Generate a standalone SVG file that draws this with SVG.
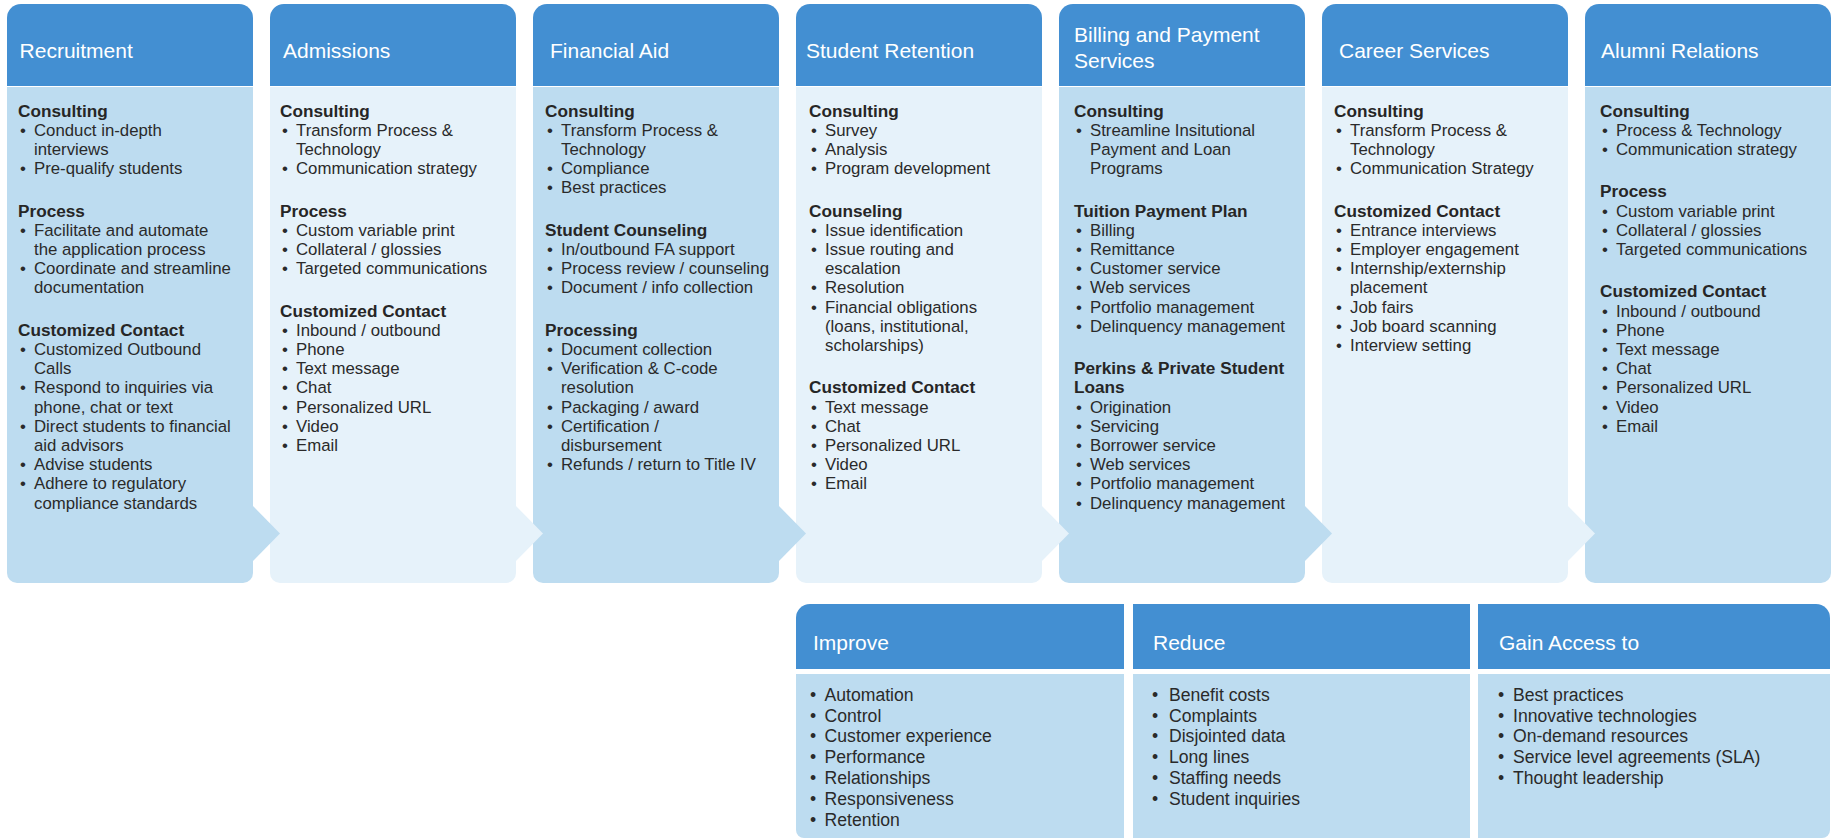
<svg xmlns="http://www.w3.org/2000/svg" width="1839" height="839" viewBox="0 0 1839 839">
<style>
.hdr{fill:#438fd2}
.dk{fill:#bddcf0}
.lt{fill:#e6f2fa}
.ht{font-family:"Liberation Sans",Arial,sans-serif;font-size:21px;fill:#ffffff}
.sh{font-family:"Liberation Sans",Arial,sans-serif;font-size:17.2px;font-weight:bold;fill:#262626}
.it{font-family:"Liberation Sans",Arial,sans-serif;font-size:16.8px;fill:#2a2a2a}
.bt{font-family:"Liberation Sans",Arial,sans-serif;font-size:17.6px;fill:#2a2a2a}
</style>
<rect width="1839" height="839" fill="#ffffff"/>

<!-- Column 7 -->
<g id="alumni-relations">
<path class="hdr" d="M1585,86 V18 A14,14 0 0 1 1599,4 H1817 A14,14 0 0 1 1831,18 V86 Z"/>
<path class="dk" d="M1585,87 H1831 V573 A10,10 0 0 1 1821,583 H1595 A10,10 0 0 1 1585,573 Z"/>
<text class="ht" x="1601" y="58.3">Alumni Relations</text>
<text class="sh" x="1600" y="116.5">Consulting</text>
<text class="it" y="135.7"><tspan x="1602">•</tspan><tspan x="1616">Process &amp; Technology</tspan></text>
<text class="it" y="154.9"><tspan x="1602">•</tspan><tspan x="1616">Communication strategy</tspan></text>
<text class="sh" x="1600" y="197.3">Process</text>
<text class="it" y="216.5"><tspan x="1602">•</tspan><tspan x="1616">Custom variable print</tspan></text>
<text class="it" y="235.7"><tspan x="1602">•</tspan><tspan x="1616">Collateral / glossies</tspan></text>
<text class="it" y="254.9"><tspan x="1602">•</tspan><tspan x="1616">Targeted communications</tspan></text>
<text class="sh" x="1600" y="297.3">Customized Contact</text>
<text class="it" y="316.5"><tspan x="1602">•</tspan><tspan x="1616">Inbound / outbound</tspan></text>
<text class="it" y="335.7"><tspan x="1602">•</tspan><tspan x="1616">Phone</tspan></text>
<text class="it" y="354.9"><tspan x="1602">•</tspan><tspan x="1616">Text message</tspan></text>
<text class="it" y="374.1"><tspan x="1602">•</tspan><tspan x="1616">Chat</tspan></text>
<text class="it" y="393.3"><tspan x="1602">•</tspan><tspan x="1616">Personalized URL</tspan></text>
<text class="it" y="412.5"><tspan x="1602">•</tspan><tspan x="1616">Video</tspan></text>
<text class="it" y="431.7"><tspan x="1602">•</tspan><tspan x="1616">Email</tspan></text>
</g>

<!-- Column 6 -->
<g id="career-services">
<path class="hdr" d="M1322,86 V18 A14,14 0 0 1 1336,4 H1554 A14,14 0 0 1 1568,18 V86 Z"/>
<path class="lt" d="M1322,87 H1568 V573 A10,10 0 0 1 1558,583 H1332 A10,10 0 0 1 1322,573 Z"/>
<text class="ht" x="1339" y="58.3">Career Services</text>
<text class="sh" x="1334" y="116.5">Consulting</text>
<text class="it" y="135.7"><tspan x="1336">•</tspan><tspan x="1350">Transform Process &amp;</tspan></text>
<text class="it" x="1350" y="154.9">Technology</text>
<text class="it" y="174.1"><tspan x="1336">•</tspan><tspan x="1350">Communication Strategy</tspan></text>
<text class="sh" x="1334" y="216.5">Customized Contact</text>
<text class="it" y="235.7"><tspan x="1336">•</tspan><tspan x="1350">Entrance interviews</tspan></text>
<text class="it" y="254.9"><tspan x="1336">•</tspan><tspan x="1350">Employer engagement</tspan></text>
<text class="it" y="274.1"><tspan x="1336">•</tspan><tspan x="1350">Internship/externship</tspan></text>
<text class="it" x="1350" y="293.3">placement</text>
<text class="it" y="312.5"><tspan x="1336">•</tspan><tspan x="1350">Job fairs</tspan></text>
<text class="it" y="331.7"><tspan x="1336">•</tspan><tspan x="1350">Job board scanning</tspan></text>
<text class="it" y="350.9"><tspan x="1336">•</tspan><tspan x="1350">Interview setting</tspan></text>
</g>

<!-- Column 5 -->
<g id="billing-payment">
<path class="hdr" d="M1059,86 V18 A14,14 0 0 1 1073,4 H1291 A14,14 0 0 1 1305,18 V86 Z"/>
<path class="dk" d="M1059,87 H1305 V573 A10,10 0 0 1 1295,583 H1069 A10,10 0 0 1 1059,573 Z"/>
<text class="ht" x="1074" y="41.7">Billing and Payment</text>
<text class="ht" x="1074" y="68.3">Services</text>
<text class="sh" x="1074" y="116.5">Consulting</text>
<text class="it" y="135.7"><tspan x="1076">•</tspan><tspan x="1090">Streamline Insitutional</tspan></text>
<text class="it" x="1090" y="154.9">Payment and Loan</text>
<text class="it" x="1090" y="174.1">Programs</text>
<text class="sh" x="1074" y="216.5">Tuition Payment Plan</text>
<text class="it" y="235.7"><tspan x="1076">•</tspan><tspan x="1090">Billing</tspan></text>
<text class="it" y="254.9"><tspan x="1076">•</tspan><tspan x="1090">Remittance</tspan></text>
<text class="it" y="274.1"><tspan x="1076">•</tspan><tspan x="1090">Customer service</tspan></text>
<text class="it" y="293.3"><tspan x="1076">•</tspan><tspan x="1090">Web services</tspan></text>
<text class="it" y="312.5"><tspan x="1076">•</tspan><tspan x="1090">Portfolio management</tspan></text>
<text class="it" y="331.7"><tspan x="1076">•</tspan><tspan x="1090">Delinquency management</tspan></text>
<text class="sh" x="1074" y="374.1">Perkins &amp; Private Student</text>
<text class="sh" x="1074" y="393.3">Loans</text>
<text class="it" y="412.5"><tspan x="1076">•</tspan><tspan x="1090">Origination</tspan></text>
<text class="it" y="431.7"><tspan x="1076">•</tspan><tspan x="1090">Servicing</tspan></text>
<text class="it" y="450.9"><tspan x="1076">•</tspan><tspan x="1090">Borrower service</tspan></text>
<text class="it" y="470.1"><tspan x="1076">•</tspan><tspan x="1090">Web services</tspan></text>
<text class="it" y="489.3"><tspan x="1076">•</tspan><tspan x="1090">Portfolio management</tspan></text>
<text class="it" y="508.5"><tspan x="1076">•</tspan><tspan x="1090">Delinquency management</tspan></text>
</g>

<!-- Column 4 -->
<g id="student-retention">
<path class="hdr" d="M796,86 V18 A14,14 0 0 1 810,4 H1028 A14,14 0 0 1 1042,18 V86 Z"/>
<path class="lt" d="M796,87 H1042 V573 A10,10 0 0 1 1032,583 H806 A10,10 0 0 1 796,573 Z"/>
<text class="ht" x="806" y="58.3">Student Retention</text>
<text class="sh" x="809" y="116.5">Consulting</text>
<text class="it" y="135.7"><tspan x="811">•</tspan><tspan x="825">Survey</tspan></text>
<text class="it" y="154.9"><tspan x="811">•</tspan><tspan x="825">Analysis</tspan></text>
<text class="it" y="174.1"><tspan x="811">•</tspan><tspan x="825">Program development</tspan></text>
<text class="sh" x="809" y="216.5">Counseling</text>
<text class="it" y="235.7"><tspan x="811">•</tspan><tspan x="825">Issue identification</tspan></text>
<text class="it" y="254.9"><tspan x="811">•</tspan><tspan x="825">Issue routing and</tspan></text>
<text class="it" x="825" y="274.1">escalation</text>
<text class="it" y="293.3"><tspan x="811">•</tspan><tspan x="825">Resolution</tspan></text>
<text class="it" y="312.5"><tspan x="811">•</tspan><tspan x="825">Financial obligations</tspan></text>
<text class="it" x="825" y="331.7">(loans, institutional,</text>
<text class="it" x="825" y="350.9">scholarships)</text>
<text class="sh" x="809" y="393.3">Customized Contact</text>
<text class="it" y="412.5"><tspan x="811">•</tspan><tspan x="825">Text message</tspan></text>
<text class="it" y="431.7"><tspan x="811">•</tspan><tspan x="825">Chat</tspan></text>
<text class="it" y="450.9"><tspan x="811">•</tspan><tspan x="825">Personalized URL</tspan></text>
<text class="it" y="470.1"><tspan x="811">•</tspan><tspan x="825">Video</tspan></text>
<text class="it" y="489.3"><tspan x="811">•</tspan><tspan x="825">Email</tspan></text>
</g>

<!-- Column 3 -->
<g id="financial-aid">
<path class="hdr" d="M533,86 V18 A14,14 0 0 1 547,4 H765 A14,14 0 0 1 779,18 V86 Z"/>
<path class="dk" d="M533,87 H779 V573 A10,10 0 0 1 769,583 H543 A10,10 0 0 1 533,573 Z"/>
<text class="ht" x="550" y="58.3">Financial Aid</text>
<text class="sh" x="545" y="116.5">Consulting</text>
<text class="it" y="135.7"><tspan x="547">•</tspan><tspan x="561">Transform Process &amp;</tspan></text>
<text class="it" x="561" y="154.9">Technology</text>
<text class="it" y="174.1"><tspan x="547">•</tspan><tspan x="561">Compliance</tspan></text>
<text class="it" y="193.3"><tspan x="547">•</tspan><tspan x="561">Best practices</tspan></text>
<text class="sh" x="545" y="235.7">Student Counseling</text>
<text class="it" y="254.9"><tspan x="547">•</tspan><tspan x="561">In/outbound FA support</tspan></text>
<text class="it" y="274.1"><tspan x="547">•</tspan><tspan x="561">Process review / counseling</tspan></text>
<text class="it" y="293.3"><tspan x="547">•</tspan><tspan x="561">Document / info collection</tspan></text>
<text class="sh" x="545" y="335.7">Processing</text>
<text class="it" y="354.9"><tspan x="547">•</tspan><tspan x="561">Document collection</tspan></text>
<text class="it" y="374.1"><tspan x="547">•</tspan><tspan x="561">Verification &amp; C-code</tspan></text>
<text class="it" x="561" y="393.3">resolution</text>
<text class="it" y="412.5"><tspan x="547">•</tspan><tspan x="561">Packaging / award</tspan></text>
<text class="it" y="431.7"><tspan x="547">•</tspan><tspan x="561">Certification /</tspan></text>
<text class="it" x="561" y="450.9">disbursement</text>
<text class="it" y="470.1"><tspan x="547">•</tspan><tspan x="561">Refunds / return to Title IV</tspan></text>
</g>

<!-- Column 2 -->
<g id="admissions">
<path class="hdr" d="M270,86 V18 A14,14 0 0 1 284,4 H502 A14,14 0 0 1 516,18 V86 Z"/>
<path class="lt" d="M270,87 H516 V573 A10,10 0 0 1 506,583 H280 A10,10 0 0 1 270,573 Z"/>
<text class="ht" x="283" y="58.3">Admissions</text>
<text class="sh" x="280" y="116.5">Consulting</text>
<text class="it" y="135.7"><tspan x="282">•</tspan><tspan x="296">Transform Process &amp;</tspan></text>
<text class="it" x="296" y="154.9">Technology</text>
<text class="it" y="174.1"><tspan x="282">•</tspan><tspan x="296">Communication strategy</tspan></text>
<text class="sh" x="280" y="216.5">Process</text>
<text class="it" y="235.7"><tspan x="282">•</tspan><tspan x="296">Custom variable print</tspan></text>
<text class="it" y="254.9"><tspan x="282">•</tspan><tspan x="296">Collateral / glossies</tspan></text>
<text class="it" y="274.1"><tspan x="282">•</tspan><tspan x="296">Targeted communications</tspan></text>
<text class="sh" x="280" y="316.5">Customized Contact</text>
<text class="it" y="335.7"><tspan x="282">•</tspan><tspan x="296">Inbound / outbound</tspan></text>
<text class="it" y="354.9"><tspan x="282">•</tspan><tspan x="296">Phone</tspan></text>
<text class="it" y="374.1"><tspan x="282">•</tspan><tspan x="296">Text message</tspan></text>
<text class="it" y="393.3"><tspan x="282">•</tspan><tspan x="296">Chat</tspan></text>
<text class="it" y="412.5"><tspan x="282">•</tspan><tspan x="296">Personalized URL</tspan></text>
<text class="it" y="431.7"><tspan x="282">•</tspan><tspan x="296">Video</tspan></text>
<text class="it" y="450.9"><tspan x="282">•</tspan><tspan x="296">Email</tspan></text>
</g>

<!-- Column 1 -->
<g id="recruitment">
<path class="hdr" d="M7,86 V18 A14,14 0 0 1 21,4 H239 A14,14 0 0 1 253,18 V86 Z"/>
<path class="dk" d="M7,87 H253 V573 A10,10 0 0 1 243,583 H17 A10,10 0 0 1 7,573 Z"/>
<text class="ht" x="19.6" y="58.3">Recruitment</text>
<text class="sh" x="18" y="116.5">Consulting</text>
<text class="it" y="135.7"><tspan x="20">•</tspan><tspan x="34">Conduct in-depth</tspan></text>
<text class="it" x="34" y="154.9">interviews</text>
<text class="it" y="174.1"><tspan x="20">•</tspan><tspan x="34">Pre-qualify students</tspan></text>
<text class="sh" x="18" y="216.5">Process</text>
<text class="it" y="235.7"><tspan x="20">•</tspan><tspan x="34">Facilitate and automate</tspan></text>
<text class="it" x="34" y="254.9">the application process</text>
<text class="it" y="274.1"><tspan x="20">•</tspan><tspan x="34">Coordinate and streamline</tspan></text>
<text class="it" x="34" y="293.3">documentation</text>
<text class="sh" x="18" y="335.7">Customized Contact</text>
<text class="it" y="354.9"><tspan x="20">•</tspan><tspan x="34">Customized Outbound</tspan></text>
<text class="it" x="34" y="374.1">Calls</text>
<text class="it" y="393.3"><tspan x="20">•</tspan><tspan x="34">Respond to inquiries via</tspan></text>
<text class="it" x="34" y="412.5">phone, chat or text</text>
<text class="it" y="431.7"><tspan x="20">•</tspan><tspan x="34">Direct students to financial</tspan></text>
<text class="it" x="34" y="450.9">aid advisors</text>
<text class="it" y="470.1"><tspan x="20">•</tspan><tspan x="34">Advise students</tspan></text>
<text class="it" y="489.3"><tspan x="20">•</tspan><tspan x="34">Adhere to regulatory</tspan></text>
<text class="it" x="34" y="508.5">compliance standards</text>
</g>

<!-- Flow arrows between columns -->
<g id="connectors">
<polygon class="dk" points="252,505 280,533.5 252,562"/>
<polygon class="lt" points="515,505 543,533.5 515,562"/>
<polygon class="dk" points="778,505 806,533.5 778,562"/>
<polygon class="lt" points="1041,505 1069,533.5 1041,562"/>
<polygon class="dk" points="1304,505 1332,533.5 1304,562"/>
<polygon class="lt" points="1567,505 1595,533.5 1567,562"/>
</g>

<!-- Bottom table -->
<g id="improve">
<path class="hdr" d="M796,669 V618 A14,14 0 0 1 810,604 H1124 V669 Z"/>
<path class="dk" d="M796,674 H1124 V838 H804 A8,8 0 0 1 796,830 Z"/>
<text class="ht" x="813" y="650">Improve</text>
<text class="bt" y="700.7"><tspan x="810">•</tspan><tspan x="824.6">Automation</tspan></text>
<text class="bt" y="721.5"><tspan x="810">•</tspan><tspan x="824.6">Control</tspan></text>
<text class="bt" y="742.3"><tspan x="810">•</tspan><tspan x="824.6">Customer experience</tspan></text>
<text class="bt" y="763.1"><tspan x="810">•</tspan><tspan x="824.6">Performance</tspan></text>
<text class="bt" y="783.9"><tspan x="810">•</tspan><tspan x="824.6">Relationships</tspan></text>
<text class="bt" y="804.7"><tspan x="810">•</tspan><tspan x="824.6">Responsiveness</tspan></text>
<text class="bt" y="825.5"><tspan x="810">•</tspan><tspan x="824.6">Retention</tspan></text>
</g>

<g id="reduce">
<rect class="hdr" x="1133" y="604" width="337" height="65"/>
<rect class="dk" x="1133" y="674" width="337" height="164"/>
<text class="ht" x="1153" y="650">Reduce</text>
<text class="bt" y="700.7"><tspan x="1152">•</tspan><tspan x="1169">Benefit costs</tspan></text>
<text class="bt" y="721.5"><tspan x="1152">•</tspan><tspan x="1169">Complaints</tspan></text>
<text class="bt" y="742.3"><tspan x="1152">•</tspan><tspan x="1169">Disjointed data</tspan></text>
<text class="bt" y="763.1"><tspan x="1152">•</tspan><tspan x="1169">Long lines</tspan></text>
<text class="bt" y="783.9"><tspan x="1152">•</tspan><tspan x="1169">Staffing needs</tspan></text>
<text class="bt" y="804.7"><tspan x="1152">•</tspan><tspan x="1169">Student inquiries</tspan></text>
</g>

<g id="gain-access">
<path class="hdr" d="M1478,669 V604 H1816 A14,14 0 0 1 1830,618 V669 Z"/>
<path class="dk" d="M1478,674 H1830 V830 A8,8 0 0 1 1822,838 H1478 Z"/>
<text class="ht" x="1499" y="650">Gain Access to</text>
<text class="bt" y="700.7"><tspan x="1498">•</tspan><tspan x="1513">Best practices</tspan></text>
<text class="bt" y="721.5"><tspan x="1498">•</tspan><tspan x="1513">Innovative technologies</tspan></text>
<text class="bt" y="742.3"><tspan x="1498">•</tspan><tspan x="1513">On-demand resources</tspan></text>
<text class="bt" y="763.1"><tspan x="1498">•</tspan><tspan x="1513">Service level agreements (SLA)</tspan></text>
<text class="bt" y="783.9"><tspan x="1498">•</tspan><tspan x="1513">Thought leadership</tspan></text>
</g>
</svg>
